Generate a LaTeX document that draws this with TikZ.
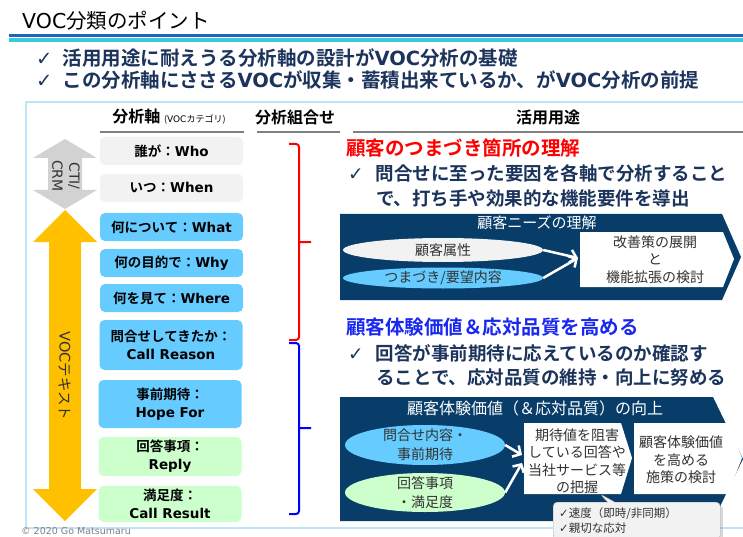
\documentclass[tikz,border=0pt]{standalone}
\usepackage{fontspec}
\setmainfont{Noto Sans CJK JP}[BoldFont={Noto Sans CJK JP Bold}]
\newfontfamily\en{DejaVu Sans}
\usetikzlibrary{shapes.geometric,shapes.callouts,shadows,arrows.meta}

\definecolor{leadnavy}{RGB}{28,52,92}
\definecolor{panelnavy}{RGB}{8,61,106}
\definecolor{skyfill}{RGB}{102,204,255}
\definecolor{greenfill}{RGB}{204,255,204}
\definecolor{boxgray}{RGB}{242,242,242}
\definecolor{arrowgray}{RGB}{210,210,210}
\definecolor{vocorange}{RGB}{255,192,0}
\definecolor{framesky}{RGB}{190,228,248}
\definecolor{ruleblue}{RGB}{30,100,195}
\definecolor{rulecyan}{RGB}{60,200,215}
\definecolor{textdark}{RGB}{50,50,50}
\definecolor{headblue}{RGB}{25,40,240}

\newcommand{\chk}{{\en\mdseries ✓}}

\begin{document}
\begin{tikzpicture}[x=1pt, y=-1pt,
			titlefont/.style={inner sep=0pt, font=\fontsize{20.5}{20.5}\selectfont},
			leadfont/.style={inner sep=0pt, text=leadnavy, font=\fontsize{19.5}{19.5}\selectfont\bfseries},
			headfont/.style={font=\fontsize{16}{16}\selectfont\bfseries},
			usagehead/.style={inner sep=0pt, font=\fontsize{19.5}{19.5}\selectfont\bfseries},
			usagefont/.style={inner sep=0pt, text=leadnavy, font=\fontsize{18.5}{18.5}\selectfont\bfseries},
			axisbox/.style={rounded corners=5pt, minimum width=143pt, inner sep=0pt, align=center, font=\fontsize{13.5}{18}\selectfont\bfseries},
			oval/.style={ellipse, inner sep=0pt, minimum width=200pt},
			paneltitle/.style={text=white, font=\fontsize{15}{15}\selectfont},
			boxtext/.style={align=center, inner sep=0pt, text=textdark, font=\fontsize{14}{17.5}\selectfont},
			flow/.style={draw=white, line width=2.5pt, -{Straight Barb[length=6pt, width=13pt]}},
			brace/.style={line width=2pt, rounded corners=3pt}
		]
		\useasboundingbox (0,0) rectangle (743,537);

		% タイトルと区切り線
		\node[titlefont, anchor=west] (title) at (22,21) {{\en VOC}分類のポイント};
		\fill[ruleblue] (9,34) rectangle (743,37.5);
		\fill[rulecyan] (9,38.5) rectangle (743,42);

		% 要点
		\node[leadfont, anchor=west] (lead1) at (36,58) {\chk\hspace{10pt}活用用途に耐えうる分析軸の設計が{\en VOC}分析の基礎};
		\node[leadfont, anchor=west] (lead2) at (36,80) {\chk\hspace{10pt}この分析軸にささる{\en VOC}が収集・蓄積出来ているか、が{\en VOC}分析の前提};

		% 枠と見出し
		\draw[framesky, line width=1.5pt] (26,102) rectangle (760,528);
		\node[headfont] (axishead) at (169,117) {分析軸 {\fontsize{9}{9}\selectfont\mdseries ({\en VOC}カテゴリ)}};
		\node[headfont] (combohead) at (295,117) {分析組合せ};
		\node[headfont] (usagetitle) at (548,117) {活用用途};
		\draw[gray, line width=1.5pt] (100,132) -- (244,132) (257,132) -- (340,132) (353,132) -- (743,132);

		% 左の矢印
		\fill[arrowgray] (65,139) -- (97,158) -- (82,158) -- (82,190) -- (97,190) -- (65,209) -- (33,190) -- (48,190) -- (48,158) -- (33,158) -- cycle;
		\fill[vocorange] (65,210) -- (97,242) -- (81,242) -- (81,489) -- (97,489) -- (65,521) -- (33,489) -- (49,489) -- (49,242) -- (33,242) -- cycle;
		\node[rotate=-90, align=center, text=textdark, font=\en\fontsize{14}{17}\selectfont] (ctilabel) at (66,176) {CTI/\\CRM};
		\node[rotate=-90, text=textdark, font=\fontsize{14.5}{14.5}\selectfont] (voclabel) at (65,376) {{\en VOC}テキスト};

		% 分析軸の箱
		\node[axisbox, fill=boxgray, minimum height=28pt] (who) at (171.5,151) {誰が：{\en Who}};
		\node[axisbox, fill=boxgray, minimum height=28pt] (when) at (171.5,188) {いつ：{\en When}};
		\node[axisbox, fill=skyfill, minimum height=28pt] (what) at (171.5,227) {何について：{\en What}};
		\node[axisbox, fill=skyfill, minimum height=28pt] (why) at (171.5,263) {何の目的で：{\en Why}};
		\node[axisbox, fill=skyfill, minimum height=28pt] (where) at (171.5,298) {何を見て：{\en Where}};
		\node[axisbox, fill=skyfill, minimum height=50pt] (reason) at (171,345) {問合せしてきたか：\\{\en Call Reason}};
		\node[axisbox, fill=skyfill, minimum height=48pt] (hope) at (170,404) {事前期待：\\{\en Hope For}};
		\node[axisbox, fill=greenfill, minimum height=39pt] (reply) at (170,456.5) {回答事項：\\{\en Reply}};
		\node[axisbox, fill=greenfill, minimum height=36pt] (result) at (170,504) {満足度：\\{\en Call Result}};

		% 分析組合せの括弧
		\draw[brace, red] (289,144) -- (299,144) -- (299,340) -- (289,340) (299,242) -- (311,242);
		\draw[brace, blue] (289,343) -- (299,343) -- (299,514) -- (289,514) (299,428) -- (311,428);

		% 活用用途（上）
		\node[usagehead, text=red, anchor=west] (stuck) at (346,148) {顧客のつまづき箇所の理解};
		\node[usagefont, anchor=west] (usage1a) at (348,173) {\chk\hspace{12pt}問合せに至った要因を各軸で分析すること};
		\node[usagefont, anchor=west] (usage1b) at (376,198) {で、打ち手や効果的な機能要件を導出};
		\fill[panelnavy] (340,214) -- (722,214) -- (741,257) -- (722,300) -- (340,300) -- cycle;
		\node[paneltitle] (needs) at (537,223) {顧客ニーズの理解};
		\node[oval, fill=boxgray, minimum height=24pt] (attr) at (443,250) {};
		\node[boxtext] (attrtext) at (attr) {顧客属性};
		\node[oval, fill=skyfill, minimum height=21pt] (stuckpt) at (443,278) {};
		\node[boxtext] (stucktext) at (stuckpt) {つまづき/要望内容};
		\fill[white] (580,232) -- (723,232) -- (734,259) -- (723,287) -- (580,287) -- cycle;
		\node[boxtext] (plan) at (655,259.5) {改善策の展開\\と\\機能拡張の検討};
		\coordinate (planin) at (578,258);
		\draw[flow] (attr.east) -- (planin);
		\draw[flow] (stuckpt.east) -- (planin);

		% 活用用途（下）
		\node[usagehead, text=headblue, anchor=west] (experience) at (346,327) {顧客体験価値＆応対品質を高める};
		\node[usagefont, anchor=west] (usage2a) at (348,353) {\chk\hspace{12pt}回答が事前期待に応えているのか確認す};
		\node[usagefont, anchor=west] (usage2b) at (376,378) {ることで、応対品質の維持・向上に努める};
		\fill[panelnavy] (340,397) -- (713,397) -- (743,459) -- (713,521) -- (340,521) -- cycle;
		\node[paneltitle, font=\fontsize{16}{16}\selectfont] (improve) at (535,408) {顧客体験価値（＆応対品質）の向上};
		\node[oval, fill=skyfill, minimum width=160pt, minimum height=40pt] (inquiry) at (425,445) {};
		\node[boxtext, font=\fontsize{14}{19}\selectfont] (inquirytext) at (inquiry) {問合せ内容・\\事前期待};
		\node[oval, fill=greenfill, minimum width=160pt, minimum height=39pt] (answer) at (425,492.5) {};
		\node[boxtext, font=\fontsize{14}{19}\selectfont] (answertext) at (answer) {回答事項\\・満足度};
		\fill[white] (524,423) -- (621,423) -- (632,458) -- (621,494) -- (524,494) -- cycle;
		\node[boxtext] (grasp) at (577,461) {期待値を阻害\\している回答や\\当社サービス等\\の把握};
		\fill[white] (634,423) -- (728,423) -- (742,458) -- (728,494) -- (634,494) -- cycle;
		\node[boxtext] (measure) at (681,460) {顧客体験価値\\を高める\\施策の検討};
		\coordinate (graspin1) at (522,455);
		\coordinate (graspin2) at (522,463);
		\draw[flow] (inquiry.east) -- (graspin1);
		\draw[flow] (answer.east) -- (graspin2);

		% 補足の吹き出し
		\node[rectangle callout, callout absolute pointer={(600,494)}, fill=boxgray, draw=gray!60, rounded corners=4pt,
			drop shadow={opacity=0.3}, anchor=north west, minimum width=167pt, minimum height=37pt, text width=155pt,
			inner xsep=6pt, align=left, text=textdark, font=\fontsize{11.5}{15}\selectfont] (memo) at (553,502)
			{\chk 速度（即時/非同期）\\\chk 親切な応対};

		\node[anchor=west, inner sep=0pt, text=gray, font=\en\fontsize{9.5}{9.5}\selectfont] (credit) at (21,531.5) {© 2020 Go Matsumaru};
	\end{tikzpicture}
\end{document}
